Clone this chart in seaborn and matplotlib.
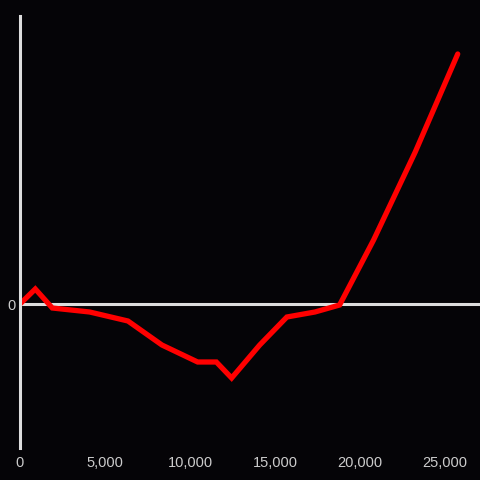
import numpy as np
import pandas as pd
import seaborn as sns
import matplotlib.pyplot as plt
from matplotlib.ticker import FuncFormatter

# data
x_vals = [0, 900, 1900, 4100, 6350, 8350, 10450, 11550, 12450, 14100,
          15700, 17350, 18800, 20800, 23250, 25750]
y_vals = [0, 15, -4, -8, -17, -41, -58, -58, -74, -41,
          -13, -8, -1, 64, 152, 250]
x_ticks = [0, 5000, 10000, 15000, 20000, 25000]

df = pd.DataFrame({"x": x_vals, "y": y_vals})

bg = "#050407"
axis_col = "#dddddd"

sns.set_theme(style="dark")
plt.rcParams['font.family'] = ['Liberation Sans', 'DejaVu Sans']

fig = plt.figure(figsize=(4.8, 4.8), dpi=100, facecolor=bg)
ax = fig.add_axes([20 / 480, 32 / 480, 460 / 480, 432 / 480])
ax.set_facecolor(bg)

sns.lineplot(data=df, x="x", y="y", ax=ax, color="#ff0000", linewidth=3.8,
             sort=False, solid_joinstyle="miter")

# zero line and left axis
ax.axhline(0, color=axis_col, linewidth=2.2, zorder=1)
for s in ["top", "right", "bottom"]:
    ax.spines[s].set_visible(False)
ax.spines["left"].set_color(axis_col)
ax.spines["left"].set_linewidth(2.2)

ax.set_xlim(0, 27060)
ax.set_ylim(-144, 288)
ax.set_xticks(x_ticks)
ax.xaxis.set_major_formatter(FuncFormatter(lambda v, p: f"{int(v):,}"))
ax.set_yticks([0])
ax.tick_params(axis="both", length=0, colors="#cccccc", labelsize=10.5)
ax.tick_params(axis="x", pad=6)
ax.tick_params(axis="y", pad=3)
ax.set_xlabel("")
ax.set_ylabel("")
ax.grid(False)

fig.savefig("out.png", dpi=100, facecolor=bg)
